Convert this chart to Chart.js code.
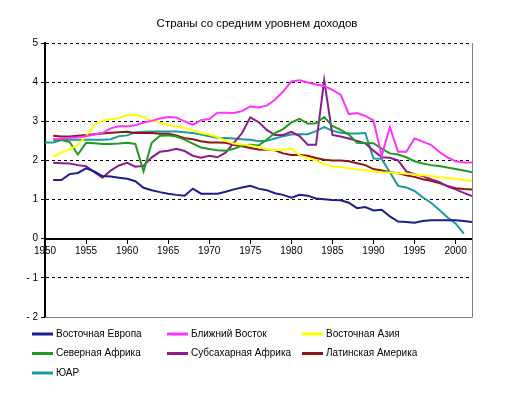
<!DOCTYPE html>
<html>
<head>
<meta charset="utf-8">
<script src="https://cdn.jsdelivr.net/npm/chart.js@4.4.1/dist/chart.umd.min.js"></script>
<style>
  body { margin: 0; background: #fff; }
  #grafico { display: block; }
</style>
</head>
<body>
<canvas id="grafico" width="512" height="393"></canvas>
<script>
const titulo = "Страны со средним уровнем доходов";

const anios = [];
for (let a = 1950; a <= 2002; a++) anios.push(a);

const yTicks = [-2, -1, 0, 1, 2, 3, 4, 5];

const series = ["Восточная Европа", "Ближний Восток", "Восточная Азия",
                "Северная Африка", "Субсахарная Африка", "Латинская Америка", "ЮАР"];

const vostEvropa = [null, 1.50, 1.50, 1.65, 1.68, 1.80, 1.72, 1.60, 1.59, 1.56, 1.53,
    1.47, 1.30, 1.24, 1.19, 1.15, 1.12, 1.10, 1.28, 1.15, 1.15,
    1.15, 1.20, 1.26, 1.31, 1.35, 1.28, 1.24, 1.16, 1.12, 1.05,
    1.12, 1.10, 1.03, 1.01, 0.99, 0.98, 0.92, 0.78, 0.81, 0.72,
    0.74, 0.57, 0.44, 0.43, 0.41, 0.45, 0.47, 0.47, 0.47, 0.47,
    0.45, 0.43];

const blizhVostok = [null, 2.54, 2.56, 2.58, 2.59, 2.62, 2.66, 2.70, 2.82, 2.87, 2.87,
    2.90, 2.97, 3.01, 3.07, 3.11, 3.10, 3.00, 2.91, 3.03, 3.06,
    3.22, 3.22, 3.21, 3.26, 3.38, 3.35, 3.40, 3.55, 3.76, 4.02,
    4.05, 3.99, 3.94, 3.90, 3.80, 3.68, 3.18, 3.21, 3.14, 3.02,
    2.12, 2.85, 2.22, 2.22, 2.56, 2.48, 2.40, 2.22, 2.08, 1.98,
    1.95, 1.95];

const vostAziya = [null, 2.10, 2.20, 2.28, 2.40, 2.62, 2.90, 3.02, 3.05, 3.08, 3.16,
    3.17, 3.10, 3.03, 2.96, 2.92, 2.87, 2.83, 2.77, 2.70, 2.66,
    2.60, 2.50, 2.43, 2.41, 2.38, 2.34, 2.28, 2.26, 2.28, 2.30,
    2.13, 2.06, 2.00, 1.90, 1.85, 1.83, 1.80, 1.77, 1.75, 1.72,
    1.70, 1.69, 1.67, 1.66, 1.64, 1.62, 1.60, 1.57, 1.55, 1.53,
    1.50, 1.48];

const sevAfrika = [null, 2.52, 2.52, 2.47, 2.15, 2.45, 2.44, 2.42, 2.42, 2.43, 2.45,
    2.42, 1.72, 2.45, 2.63, 2.64, 2.61, 2.53, 2.43, 2.33, 2.29,
    2.26, 2.25, 2.30, 2.38, 2.40, 2.38, 2.53, 2.70, 2.80, 2.97,
    3.06, 2.94, 2.95, 3.11, 2.88, 2.78, 2.66, 2.45, 2.44, 2.44,
    2.30, 2.18, 2.15, 2.08, 1.98, 1.92, 1.88, 1.86, 1.82, 1.78,
    1.74, 1.70];

const subsahAfrika = [null, 1.94, 1.93, 1.92, 1.88, 1.85, 1.70, 1.56, 1.74, 1.87, 1.94,
    1.84, 1.86, 2.08, 2.22, 2.25, 2.30, 2.24, 2.12, 2.07, 2.12,
    2.08, 2.20, 2.45, 2.70, 3.10, 2.98, 2.78, 2.65, 2.65, 2.73,
    2.62, 2.40, 2.40, 4.05, 2.65, 2.61, 2.56, 2.50, 2.44, 2.25,
    2.08, 2.07, 2.00, 1.72, 1.65, 1.60, 1.52, 1.45, 1.34, 1.26,
    1.17, 1.09];

const latAmerika = [null, 2.63, 2.61, 2.61, 2.63, 2.65, 2.67, 2.69, 2.71, 2.72, 2.73,
    2.70, 2.70, 2.70, 2.68, 2.68, 2.64, 2.57, 2.54, 2.49, 2.46,
    2.46, 2.45, 2.40, 2.36, 2.32, 2.28, 2.27, 2.26, 2.18, 2.14,
    2.14, 2.12, 2.06, 2.02, 2.00, 2.00, 1.98, 1.93, 1.88, 1.78,
    1.74, 1.70, 1.67, 1.62, 1.58, 1.52, 1.48, 1.42, 1.35, 1.29,
    1.27, 1.26];

const yuar = [2.46, 2.46, 2.52, 2.53, 2.53, 2.53, 2.53, 2.53, 2.54, 2.62,
    2.64, 2.72, 2.73, 2.74, 2.74, 2.74, 2.74, 2.72, 2.70, 2.66,
    2.62, 2.58, 2.57, 2.56, 2.54, 2.53, 2.49, 2.50, 2.56, 2.62,
    2.66, 2.67, 2.67, 2.75, 2.85, 2.76, 2.71, 2.69, 2.69, 2.70,
    2.05, 2.04, 1.70, 1.35, 1.31, 1.22, 1.06, 0.92, 0.74, 0.55,
    0.39, 0.13, null];

const valores = [vostEvropa, blizhVostok, vostAziya, sevAfrika, subsahAfrika, latAmerika, yuar];
const colores = ["#1c1c8c", "#ff33ff", "#ffff00", "#229922", "#8c1c8c", "#8c1414", "#1f9a9a"];

const fuente = "'Liberation Sans', Arial, sans-serif";

// titulo, marco del area y leyenda dibujados a mano
const extras = {
    id: 'extras',
    afterDraw(chart) {
        const ctx = chart.ctx;
        const area = chart.chartArea;
        ctx.save();

        ctx.fillStyle = '#000';
        ctx.font = '11.5px ' + fuente;
        ctx.textAlign = 'center';
        ctx.textBaseline = 'middle';
        ctx.fillText(titulo, 257, 24);

        ctx.strokeStyle = '#808080';
        ctx.lineWidth = 1;
        ctx.beginPath();
        ctx.moveTo(area.left, area.bottom + 0.5);
        ctx.lineTo(area.right + 0.5, area.bottom + 0.5);
        ctx.lineTo(area.right + 0.5, area.top);
        ctx.stroke();

        const cols = [32, 167, 302];
        ctx.font = '10px ' + fuente;
        ctx.textAlign = 'left';
        chart.data.datasets.forEach(function (ds, i) {
            const x = cols[i % 3];
            const y = 334 + Math.floor(i / 3) * 19.5;
            ctx.strokeStyle = ds.borderColor;
            ctx.lineWidth = 3;
            ctx.beginPath();
            ctx.moveTo(x, y);
            ctx.lineTo(x + 21, y);
            ctx.stroke();
            ctx.fillStyle = '#000';
            ctx.fillText(ds.label, x + 24, y);
        });
        ctx.restore();
    }
};

const ctx = document.getElementById('grafico').getContext('2d');

new Chart(ctx, {
    type: 'line',
    data: {
        labels: anios,
        datasets: series.map(function (nombre, i) {
            return {
                label: nombre,
                data: valores[i],
                borderColor: colores[i],
                backgroundColor: colores[i],
                borderWidth: 2,
                pointRadius: 0,
                tension: 0,
                spanGaps: false
            };
        })
    },
    options: {
        responsive: false,
        animation: false,
        devicePixelRatio: 1,
        layout: { padding: { left: 0, top: 43, right: 40, bottom: 76 } },
        plugins: {
            legend: { display: false },
            tooltip: { enabled: false },
            title: { display: false }
        },
        scales: {
            x: {
                type: 'linear',
                min: 1950,
                max: 2002,
                position: { y: 0 },
                afterFit: function (scale) { scale.height = 0; },
                grid: { drawOnChartArea: false, drawTicks: true, tickLength: 4, color: '#000' },
                border: { display: true, color: '#000', width: 2 },
                ticks: {
                    stepSize: 5,
                    includeBounds: false,
                    autoSkip: false,
                    maxRotation: 0,
                    padding: 3,
                    color: '#000',
                    font: { family: fuente, size: 10 },
                    callback: function (v) { return String(v); }
                }
            },
            y: {
                min: yTicks[0],
                max: yTicks[yTicks.length - 1],
                afterFit: function (scale) { scale.width = 45; },
                afterBuildTicks: function (scale) {
                    scale.ticks = yTicks.map(function (v) { return { value: v }; });
                },
                grid: { color: '#000', lineWidth: 1, tickLength: 4 },
                border: { display: true, color: '#000', width: 2, dash: [3, 3] },
                ticks: {
                    padding: 3,
                    color: '#000',
                    font: { family: fuente, size: 10 },
                    callback: function (v) { return v < 0 ? '- ' + Math.abs(v) : String(v); }
                }
            }
        }
    },
    plugins: [extras]
});
</script>
</body>
</html>
